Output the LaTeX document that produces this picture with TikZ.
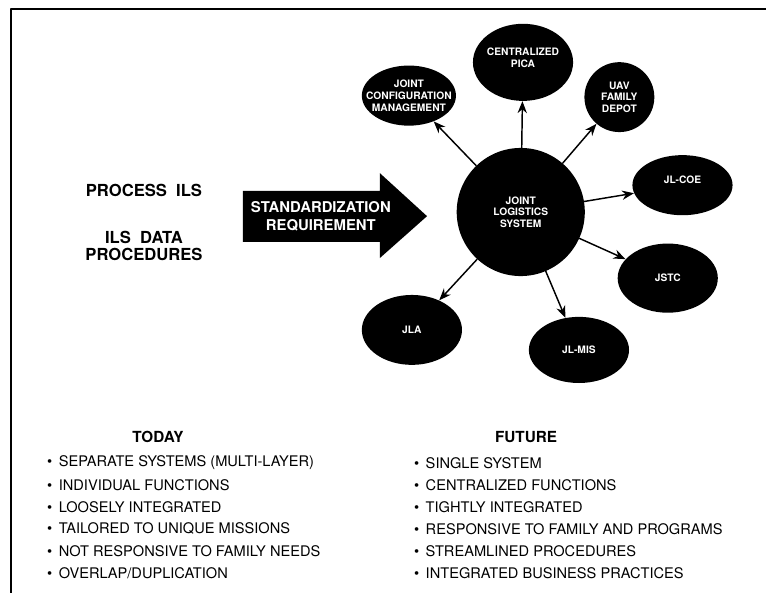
\documentclass[tikz,border=0pt]{standalone}
\usepackage{fontspec}
\setmainfont{TeX Gyre Heros}
\usetikzlibrary{shapes.geometric,arrows.meta}

\begin{document}
\begin{tikzpicture}[>={Stealth[length=9pt,width=7pt]},line join=round,line cap=round,
	blob/.style={fill=black,ellipse,inner sep=0pt},
	blobtxt/.style={text=white,font=\fontsize{7.7}{8.8}\selectfont\bfseries,align=center},
	big/.style={font=\fontsize{12.5}{13}\selectfont\bfseries,align=center},
	head/.style={font=\fontsize{11.5}{13}\selectfont\bfseries},
	item/.style={font=\fontsize{11}{13}\selectfont,anchor=west,inner sep=0pt}]
	\useasboundingbox (0,0) rectangle (20.27,15.69);
	\draw[line width=1.5pt,line cap=butt] (0.30,0) -- (0.30,15.44) -- (20.27,15.44);
	% left side
	\node[big] (process) at (3.81,10.66) {PROCESS\ \ ILS};
	\node[big] (ilsdata) at (3.81,9.19) {ILS\ \ DATA\\PROCEDURES};
	\fill (6.43,10.64) -- (10.05,10.64) -- (10.05,11.11) -- (11.30,9.97)
		-- (10.05,8.86) -- (10.05,9.29) -- (6.43,9.29) -- cycle;
	\node[big,text=white,font=\fontsize{11.2}{13.4}\selectfont\bfseries] (stdreq) at (8.49,9.96) {STANDARDIZATION\\REQUIREMENT};
	% hub and spokes
	\node[blob,circle,minimum size=3.39cm,label={[blobtxt]center:JOINT\\LOGISTICS\\SYSTEM}] (jls) at (13.78,10.08) {};
	\node[blob,minimum width=2.65cm,minimum height=2.04cm,label={[blobtxt,yshift=0.13cm]center:CENTRALIZED\\PICA}] (pica) at (13.84,14.04) {};
	\node[blob,minimum width=2.49cm,minimum height=1.59cm,label={[blobtxt]center:JOINT\\CONFIGURATION\\MANAGEMENT}] (jcm) at (10.82,13.16) {};
	\node[blob,minimum width=1.85cm,minimum height=1.85cm,label={[blobtxt]center:UAV\\FAMILY\\DEPOT}] (uav) at (16.39,13.12) {};
	\node[blob,minimum width=2.65cm,minimum height=1.59cm,label={[blobtxt,yshift=0.13cm]center:JL-COE}] (jlcoe) at (18.06,10.79) {};
	\node[blob,minimum width=2.65cm,minimum height=1.83cm,label={[blobtxt]center:JSTC}] (jstc) at (17.67,8.33) {};
	\node[blob,minimum width=2.65cm,minimum height=1.75cm,label={[blobtxt]center:JL-MIS}] (jlmis) at (15.32,6.43) {};
	\node[blob,minimum width=2.65cm,minimum height=1.85cm,label={[blobtxt]center:JLA}] (jla) at (10.90,6.96) {};
	\foreach \n in {pica,jcm,uav,jlcoe,jstc,jlmis,jla}
		\draw[->,line width=1.1pt] (jls) -- (\n);
	% lists
	\node[head] (today) at (4.18,4.13) {TODAY};
	\node[head] (future) at (13.92,4.13) {FUTURE};
	\foreach \t [count=\i] in {{SEPARATE SYSTEMS (MULTI-LAYER)},{INDIVIDUAL FUNCTIONS},{LOOSELY INTEGRATED},
		{TAILORED TO UNIQUE MISSIONS},{NOT RESPONSIVE TO FAMILY NEEDS},{OVERLAP/DUPLICATION}}
		\node[item] (today\i) at (1.24,3.44-0.582*\i+0.582) {\textbullet\hspace{0.45em}\t};
	\foreach \t [count=\i] in {{SINGLE SYSTEM},{CENTRALIZED FUNCTIONS},{TIGHTLY INTEGRATED},
		{RESPONSIVE TO FAMILY AND PROGRAMS},{STREAMLINED PROCEDURES},{INTEGRATED BUSINESS PRACTICES}}
		\node[item] (future\i) at (10.95,3.44-0.582*\i+0.582) {\textbullet\hspace{0.45em}\t};
\end{tikzpicture}
\end{document}
